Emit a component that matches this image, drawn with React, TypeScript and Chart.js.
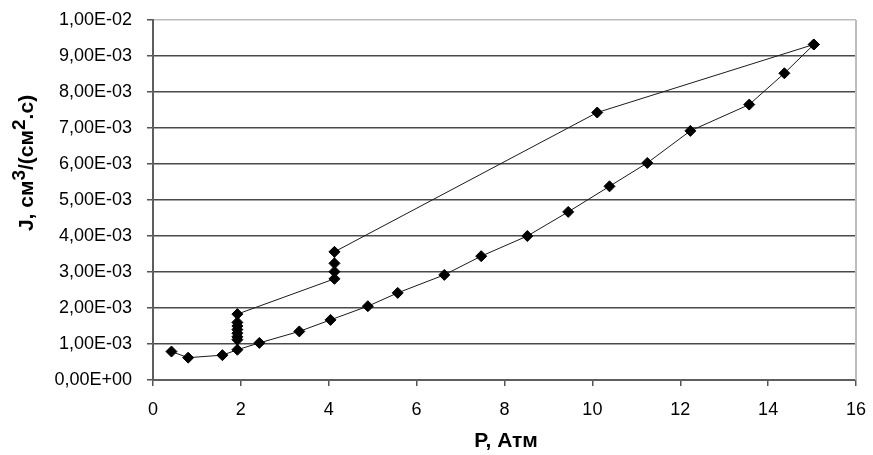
import { useEffect, useRef } from "react";
import { Chart, registerables } from "chart.js";

Chart.register(...registerables);

// Rising-pressure branch: P (атм) and flux J (см³/(см²·с))
const risePressure = [0.42, 0.8, 1.58, 1.92, 2.42, 3.33, 4.04, 4.89, 5.57, 6.63, 7.47, 8.52, 9.45, 10.39, 11.25, 12.23, 13.57, 14.37, 15.04];
const riseFlux = [7.9e-4, 6.2e-4, 6.9e-4, 8.4e-4, 1.03e-3, 1.35e-3, 1.67e-3, 2.05e-3, 2.42e-3, 2.92e-3, 3.44e-3, 4.0e-3, 4.67e-3, 5.38e-3, 6.03e-3, 6.92e-3, 7.65e-3, 8.52e-3, 9.32e-3];

// Falling-pressure branch
const fallPressure = [15.04, 10.11, 4.13, 4.13, 4.13, 4.13, 1.92, 1.92, 1.92, 1.92, 1.92, 1.92, 1.92];
const fallFlux = [9.32e-3, 7.43e-3, 3.56e-3, 3.24e-3, 3.01e-3, 2.81e-3, 1.83e-3, 1.6e-3, 1.5e-3, 1.4e-3, 1.3e-3, 1.2e-3, 1.12e-3];

const X_MIN = 0;
const X_MAX = 16;
const X_STEP = 2;
const Y_MIN = 0;
const Y_MAX = 0.01;
const Y_STEP = 0.001;

const xTitle = "P, Атм";
// y title pieces: [text, isSuperscript]
const yTitleParts: [string, boolean][] = [
  ["J, см", false],
  ["3", true],
  ["/(см", false],
  ["2", true],
  [".с)", false],
];

const FONT = "'Liberation Sans', Arial, sans-serif";

function formatSci(v: number): string {
  const s = v.toExponential(2); // e.g. 1.00e-2
  const [mant, exp] = s.split("e");
  const n = parseInt(exp, 10);
  const sign = n < 0 ? "-" : "+";
  const e = String(Math.abs(n)).padStart(2, "0");
  return mant.replace(".", ",") + "E" + sign + e;
}

const toPoints = (xs: number[], ys: number[]) => xs.map((x, i) => ({ x, y: ys[i] }));

const frameAndTitles = {
  id: "frameAndTitles",
  afterDraw(chart: any) {
    const { ctx, chartArea } = chart;
    const { left, right, top, bottom } = chartArea;
    ctx.save();
    // light plot frame on the right side
    ctx.strokeStyle = "#bdbdbd";
    ctx.lineWidth = 2;
    ctx.beginPath();
    ctx.moveTo(right, top);
    ctx.lineTo(right, bottom);
    ctx.stroke();

    // x title
    ctx.fillStyle = "#000";
    ctx.font = `bold 21px ${FONT}`;
    ctx.textAlign = "center";
    ctx.textBaseline = "middle";
    ctx.fillText(xTitle, 506, 441);

    // y title, rotated, with superscripts
    const mainFont = `bold 21px ${FONT}`;
    const supFont = `bold 19px ${FONT}`;
    let total = 0;
    const widths = yTitleParts.map(([t, sup]) => {
      ctx.font = sup ? supFont : mainFont;
      const w = ctx.measureText(t).width;
      total += w;
      return w;
    });
    ctx.translate(25, 163);
    ctx.rotate(-Math.PI / 2);
    ctx.textAlign = "left";
    ctx.textBaseline = "alphabetic";
    let x = -total / 2;
    yTitleParts.forEach(([t, sup], i) => {
      ctx.font = sup ? supFont : mainFont;
      ctx.fillText(t, x, sup ? 0 : 8);
      x += widths[i];
    });
    ctx.restore();
  },
};

export default function App() {
  const ref = useRef<HTMLCanvasElement | null>(null);

  useEffect(() => {
    if (!ref.current) return;
    const lineColor = "#1a1a1a";
    const common = {
      showLine: true,
      borderColor: lineColor,
      borderWidth: 1,
      backgroundColor: "#000",
      pointBackgroundColor: "#000",
      pointBorderColor: "#000",
      pointStyle: "rectRot" as const,
      pointRadius: 5.5,
      pointBorderWidth: 1,
      tension: 0,
    };
    const chart = new Chart(ref.current, {
      type: "scatter",
      data: {
        datasets: [
          { ...common, label: "rise", data: toPoints(risePressure, riseFlux) },
          { ...common, label: "fall", data: toPoints(fallPressure, fallFlux) },
        ],
      },
      options: {
        animation: false,
        responsive: true,
        maintainAspectRatio: false,
        layout: { padding: { top: 20, right: 17, left: 0, bottom: 0 } },
        plugins: {
          legend: { display: false },
          tooltip: { enabled: false },
        },
        scales: {
          x: {
            type: "linear",
            min: X_MIN,
            max: X_MAX,
            ticks: {
              stepSize: X_STEP,
              color: "#000",
              font: { family: FONT, size: 18 },
              padding: 13,
              maxRotation: 0,
            },
            grid: {
              drawOnChartArea: false,
              drawTicks: true,
              tickLength: 6,
              tickColor: "#555",
              lineWidth: 1.5,
            },
            border: { display: true, color: "#5e5e5e", width: 2 },
            afterFit(scale: any) {
              scale.height = 75;
              scale.paddingLeft = 0;
              scale.paddingRight = 0;
            },
          },
          y: {
            type: "linear",
            min: Y_MIN,
            max: Y_MAX,
            ticks: {
              stepSize: Y_STEP,
              color: "#000",
              font: { family: FONT, size: 18 },
              padding: 15,
              callback: (v: any) => formatSci(Number(v)),
            },
            grid: {
              drawTicks: true,
              tickLength: 6,
              tickColor: "#555",
              color: (c: any) => (c.tick && Math.abs(c.tick.value - Y_MAX) < 1e-9 ? "#bdbdbd" : "#4a4a4a"),
              lineWidth: 1.5,
            },
            border: { display: true, color: "#5e5e5e", width: 2 },
            afterFit(scale: any) {
              scale.width = 153;
              scale.paddingTop = 0;
              scale.paddingBottom = 0;
            },
          },
        },
      },
      plugins: [frameAndTitles],
    });
    return () => chart.destroy();
  }, []);

  return (
    <div style={{ position: "absolute", left: 0, top: 0, width: 873, height: 455, background: "#fff" }}>
      <canvas ref={ref} />
    </div>
  );
}
